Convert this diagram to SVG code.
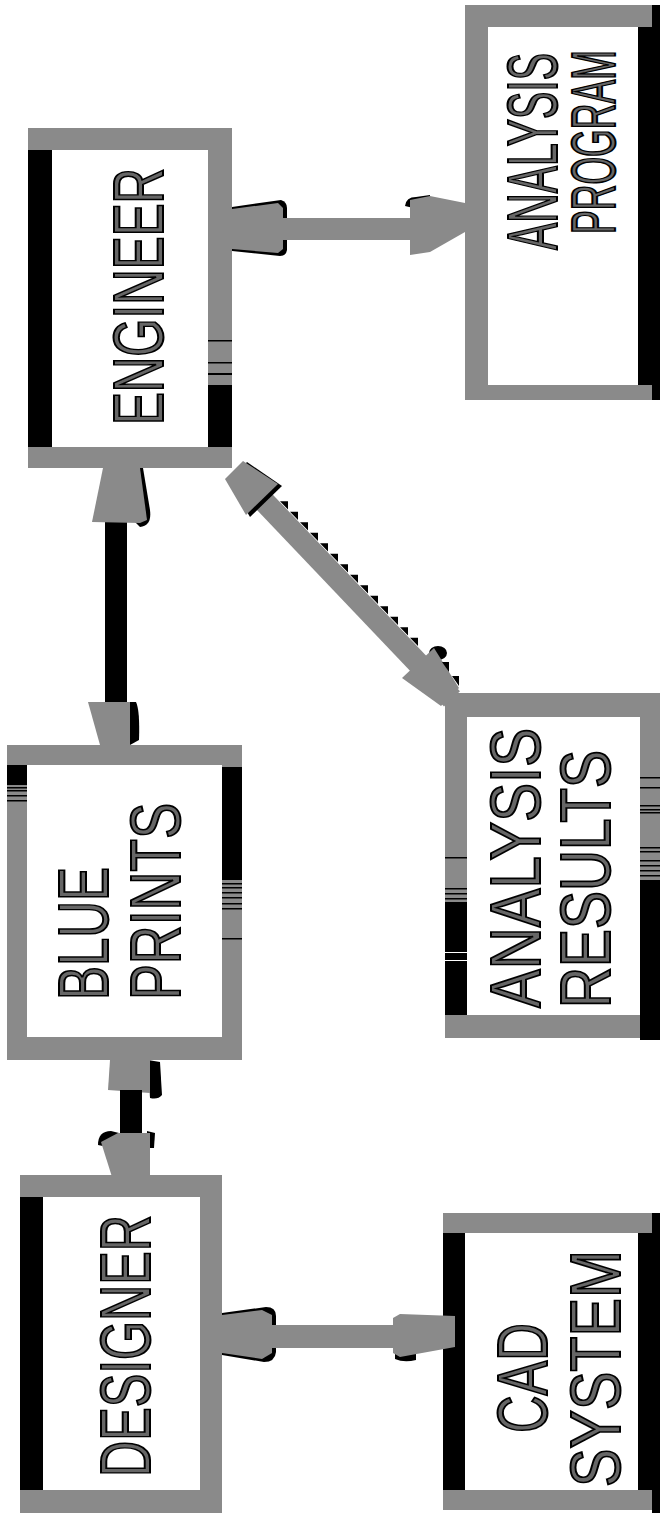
<svg xmlns="http://www.w3.org/2000/svg" width="667" height="1523" viewBox="0 0 667 1523">
<style>
.g{fill:#8a8a8a}
.k{fill:#000}
.w{fill:#fff}
.t{font-family:"Liberation Sans",Arial,sans-serif;font-size:70px;fill:#666;stroke:#000;stroke-width:2}
</style>
<rect width="667" height="1523" fill="#fff"/>

<g id="engineer">
<rect class="g" x="28" y="128" width="204" height="340"/>
<rect class="w" x="52" y="150" width="156" height="297"/>
<rect class="k" x="28" y="150" width="24" height="297"/>
<rect class="k" x="208" y="385" width="24" height="62"/>
<rect class="k" x="208" y="340" width="24" height="1.5"/>
<rect class="k" x="208" y="362" width="24" height="1.5"/>
<rect class="k" x="208" y="373" width="24" height="2"/>
<text class="t" transform="translate(163,425) rotate(-90)" textLength="257" lengthAdjust="spacingAndGlyphs">ENGINEER</text>
</g>

<g id="blueprints">
<rect class="g" x="7" y="745" width="235" height="315"/>
<rect class="w" x="27" y="765" width="195" height="272"/>
<rect class="k" x="7" y="765" width="20" height="20"/>
<rect class="k" x="7" y="787" width="20" height="1.5"/>
<rect class="k" x="7" y="790" width="20" height="1.5"/>
<rect class="k" x="7" y="795" width="20" height="1.5"/>
<rect class="k" x="7" y="800" width="20" height="1.5"/>
<rect class="k" x="222" y="767" width="20" height="113"/>
<rect class="k" x="222" y="883" width="20" height="1.5"/>
<rect class="k" x="222" y="887" width="20" height="1.5"/>
<rect class="k" x="222" y="892" width="20" height="1.5"/>
<rect class="k" x="222" y="897" width="20" height="1.5"/>
<rect class="k" x="222" y="903" width="20" height="1.5"/>
<rect class="k" x="222" y="908" width="20" height="1.5"/>
<rect class="k" x="222" y="938" width="20" height="1.5"/>
<text class="t" transform="translate(108,1000) rotate(-90)" textLength="133" lengthAdjust="spacingAndGlyphs">BLUE</text>
<text class="t" transform="translate(180,1000) rotate(-90)" textLength="197" lengthAdjust="spacingAndGlyphs">PRINTS</text>
</g>

<g id="designer">
<rect class="g" x="20" y="1175" width="202" height="338"/>
<rect class="w" x="43" y="1197" width="157" height="293"/>
<rect class="k" x="20" y="1197" width="23" height="293"/>
<text class="t" transform="translate(150,1477) rotate(-90)" textLength="262" lengthAdjust="spacingAndGlyphs">DESIGNER</text>
</g>

<g id="cad-system">
<rect class="g" x="443" y="1213" width="217" height="297"/>
<rect class="w" x="465" y="1233" width="173" height="257"/>
<rect class="k" x="443" y="1233" width="22" height="257"/>
<rect class="k" x="638" y="1233" width="22" height="257"/>
<rect class="k" x="652" y="1213" width="8" height="300"/>
<text class="t" transform="translate(547,1433) rotate(-90)" textLength="110" lengthAdjust="spacingAndGlyphs">CAD</text>
<text class="t" transform="translate(620,1487) rotate(-90)" textLength="237" lengthAdjust="spacingAndGlyphs">SYSTEM</text>
</g>

<g id="analysis-results">
<rect class="g" x="445" y="693" width="215" height="345"/>
<rect class="w" x="467" y="717" width="173" height="298"/>
<rect class="k" x="445" y="902" width="22" height="113"/>
<rect class="w" x="445" y="952" width="22" height="1"/>
<rect class="w" x="445" y="960" width="22" height="1"/>
<rect class="k" x="445" y="857" width="22" height="1.5"/>
<rect class="k" x="445" y="888" width="22" height="1.5"/>
<rect class="k" x="445" y="893" width="22" height="1.5"/>
<rect class="k" x="445" y="898" width="22" height="1.5"/>
<rect class="k" x="640" y="880" width="20" height="160"/>
<rect class="k" x="640" y="777" width="20" height="1.5"/>
<rect class="k" x="640" y="787" width="20" height="1.5"/>
<rect class="k" x="640" y="805" width="20" height="1.5"/>
<rect class="k" x="640" y="809" width="20" height="1.5"/>
<rect class="k" x="640" y="812" width="20" height="1.5"/>
<rect class="k" x="640" y="847" width="20" height="1.5"/>
<rect class="k" x="640" y="851" width="20" height="1.5"/>
<rect class="k" x="640" y="860" width="20" height="1.5"/>
<rect class="k" x="640" y="865" width="20" height="1.5"/>
<rect class="k" x="640" y="870" width="20" height="1.5"/>
<rect class="k" x="640" y="875" width="20" height="1.5"/>
<text class="t" transform="translate(540,1008) rotate(-90)" textLength="280" lengthAdjust="spacingAndGlyphs">ANALYSIS</text>
<text class="t" transform="translate(610,1008) rotate(-90)" textLength="258" lengthAdjust="spacingAndGlyphs">RESULTS</text>
</g>

<g id="analysis-program">
<rect class="g" x="465" y="5" width="195" height="395"/>
<rect class="w" x="488" y="27" width="150" height="358"/>
<rect class="k" x="638" y="27" width="22" height="358"/>
<rect class="k" x="652" y="5" width="8" height="395"/>
<text class="t" transform="translate(557,250) rotate(-90) scale(0.584,1)">ANALYSIS</text>
<text class="t" style="font-size:63px" transform="translate(615,234) rotate(-90) scale(0.565,1)">PROGRAM</text>
</g>

<g id="connectors">
<!-- engineer <-> analysis program -->
<path class="k" d="M232,207 L281,200 Q287,202 287,208 L287,250 Q286,256 280,256 L232,251 Z"/>
<polygon class="g" points="232,209 278,203 283,208 283,249 278,253 232,249"/>
<rect class="g" x="280" y="218" width="132" height="22"/>
<path class="k" d="M405,206 Q406,197 416,197 L430,195 L430,212 Z"/>
<polygon class="g" points="410,200 430,196 465,203 465,232 430,252 410,255"/>

<!-- engineer <-> blue prints -->
<rect class="k" x="105" y="518" width="22" height="186"/>
<path class="k" d="M138,468 L143,468 L150,510 Q152,526 140,527 L135,522 Z"/>
<polygon class="g" points="103,468 140,468 147,520 140,523 92,522"/>
<path class="k" d="M128,702 L136,702 Q140,710 139,740 L130,745 Z"/>
<polygon class="g" points="88,702 130,702 130,745 100,745"/>

<!-- blue prints <-> designer -->
<path class="k" d="M148,1060 L160,1062 L162,1095 Q158,1100 150,1098 Z"/>
<polygon class="g" points="110,1060 150,1060 150,1093 108,1090"/>
<rect class="k" x="120" y="1090" width="22" height="44"/>
<path class="k" d="M98,1145 Q98,1131 111,1131 L119,1133 L117,1149 Z"/>
<path class="k" d="M147,1131 L155,1133 L154,1148 L147,1148 Z"/>
<polygon class="g" points="101,1142 118,1133 150,1133 150,1177 112,1177"/>

<!-- designer <-> cad system -->
<path class="k" d="M222,1313 L266,1307 Q276,1307 276,1316 L276,1352 Q275,1362 264,1362 L222,1355 Z"/>
<polygon class="g" points="222,1315 262,1310 272,1315 272,1353 262,1359 222,1353"/>
<rect class="g" x="270" y="1325" width="125" height="23"/>
<path class="k" d="M395,1348 L395,1359 Q404,1363 416,1360 L416,1350 Z"/>
<polygon class="g" points="393,1318 400,1314 455,1316 455,1347 400,1357 393,1353"/>

<!-- engineer <-> analysis results (diagonal) -->
<polygon class="g" points="244,464.4 460,691.2 444,706.4 228,479.6"/>
<path class="k" d="M280,501.2 L288,509.6 L288,501.2 Z M290,511.7 L298,520.1 L298,511.7 Z M300,522.2 L308,530.6 L308,522.2 Z M310,532.7 L318,541.1 L318,532.7 Z M320,543.2 L328,551.6 L328,543.2 Z M330,553.7 L338,562.1 L338,553.7 Z M340,564.2 L348,572.6 L348,564.2 Z M350,574.7 L358,583.1 L358,574.7 Z M360,585.2 L368,593.6 L368,585.2 Z M370,595.7 L378,604.1 L378,595.7 Z M380,606.2 L388,614.6 L388,606.2 Z M390,616.7 L398,625.1 L398,616.7 Z M400,627.2 L408,635.6 L408,627.2 Z M410,637.7 L418,646.1 L418,637.7 Z"/>
<polygon class="k" points="247,462 282,486 250,517 229,481"/>
<polygon class="g" points="243,461 278,484 246,515 225,479"/>
<ellipse class="k" cx="438" cy="653" rx="9" ry="7"/>
<polygon class="g" points="434,648 459,688 441,706 402,678"/>
<path class="k" d="M442,662 L449,672 L449,662 Z M452,676 L459,686 L459,676 Z"/>
</g>
</svg>
